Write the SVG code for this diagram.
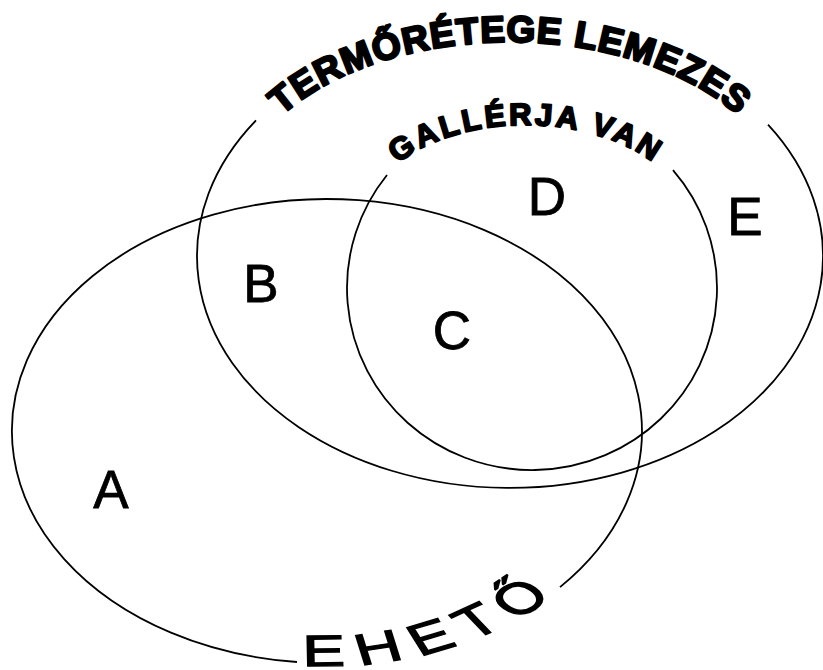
<svg xmlns="http://www.w3.org/2000/svg" width="823" height="670" viewBox="0 0 823 670">
  <style>
    .set { fill: none; stroke: #000; stroke-width: 1.8; }
    .big { font-family: "Liberation Sans", Arial, sans-serif; font-weight: bold; fill: #000; stroke: #000; stroke-width: 2.4; stroke-linejoin: round; }
    .eh { font-family: "Liberation Sans", Arial, sans-serif; fill: #000; stroke: #000; stroke-width: 1.3; }
    .region { font-family: "Liberation Sans", Arial, sans-serif; font-size: 53px; fill: #000; stroke: #000; stroke-width: 0.8; text-anchor: middle; }
  </style>
  <defs>
    <path id="p-term" d="M 233,212 A 277,170 0 0 1 787,212"/>
    <path id="p-gall" d="M 358,233 A 168,108 0 0 1 694,233"/>
    <path id="p-eheto" d="M 172.4,659 A 219.3,235 0 0 0 441.4,472.5"/>
  </defs>
  <rect width="823" height="670" fill="#fff"/>

  <g id="set-termoretege">
    <path class="set" d="M 768,124.6 A 313,232 0 1 1 256,120.4"/>
    <text class="big" font-size="37" letter-spacing="1"><textPath href="#p-term" startOffset="50%" text-anchor="middle">TERMŐRÉTEGE LEMEZES</textPath></text>
  </g>

  <g id="set-gallerja">
    <path class="set" d="M 673,170.2 A 185,182 0 1 1 387,175"/>
    <text class="big" font-size="31" letter-spacing="3" style="stroke-width:2"><textPath href="#p-gall" startOffset="50%" text-anchor="middle">GALLÉRJA VAN</textPath></text>
  </g>

  <g id="set-eheto">
    <path class="set" d="M 560,587.1 A 315,232 0 1 0 297,662"/>
    <text class="eh" font-size="44" letter-spacing="10" transform="scale(1.45,1)"><textPath href="#p-eheto" startOffset="37">EHETŐ</textPath></text>
  </g>

  <g id="regions">
    <text id="region-a" class="region" x="111" y="508">A</text>
    <text id="region-b" class="region" x="261" y="302">B</text>
    <text id="region-c" class="region" x="452" y="349">C</text>
    <text id="region-d" class="region" x="547" y="215">D</text>
    <text id="region-e" class="region" x="745" y="235">E</text>
  </g>
</svg>
